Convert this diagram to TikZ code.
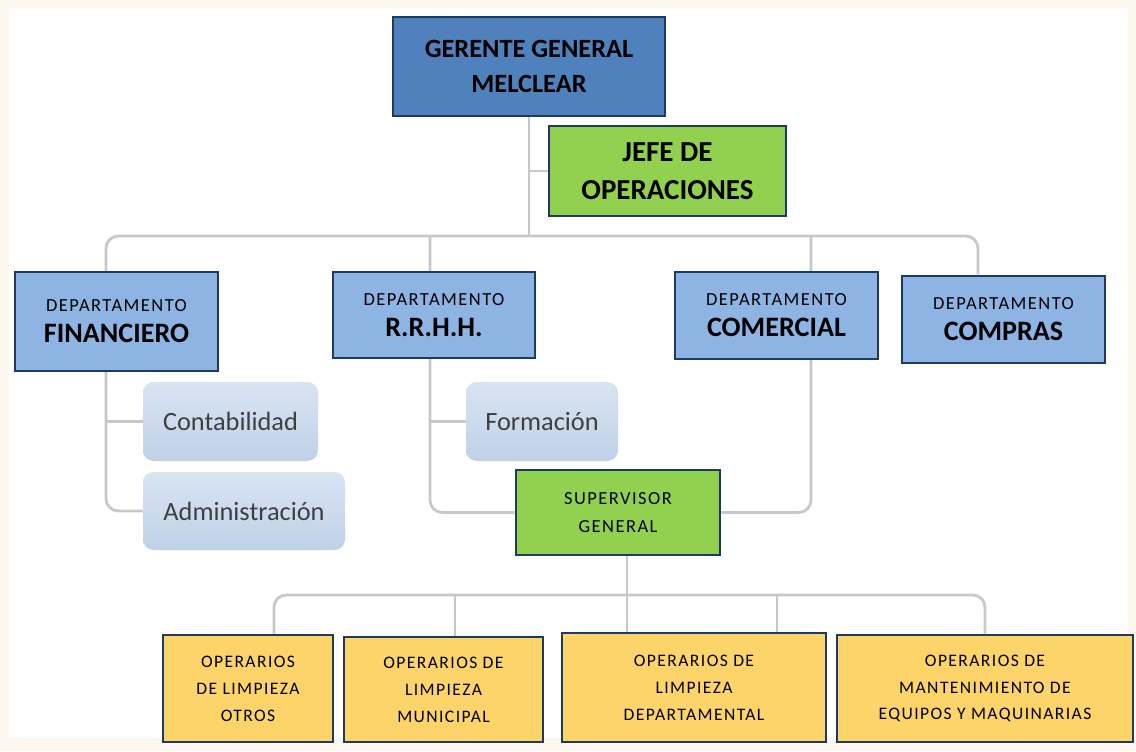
\documentclass[tikz,border=0pt]{standalone}
\usepackage{fontspec}
\setmainfont{Carlito}
\newfontfamily\spacedfont[LetterSpace=8]{Carlito}
\usepackage{xcolor}
\usetikzlibrary{backgrounds}
\definecolor{navy}{HTML}{1F3A60}
\definecolor{gerblue}{HTML}{4F81BD}
\definecolor{deptblue}{HTML}{8DB4E2}
\definecolor{leafgreen}{HTML}{92D050}
\definecolor{operyellow}{HTML}{FCD46A}
\definecolor{subtop}{HTML}{D9E4F2}
\definecolor{subbot}{HTML}{BFD1E8}
\definecolor{subtext}{HTML}{3F3F3F}
\definecolor{linkgray}{HTML}{C8C8C8}
\definecolor{cream}{HTML}{FDF8EF}

\newcommand{\deptlabel}[1]{{\spacedfont DEPARTAMENTO}\\{\bfseries\fontsize{16}{17.6}\selectfont #1}}

\begin{document}
\begin{tikzpicture}[x=0.02cm, y=-0.02cm,
  sz/.style 2 args={minimum width={#1*0.02cm}, minimum height={#2*0.02cm}},
  box/.style={draw=navy, line width=1.6pt, align=center, inner sep=0pt},
  head/.style={box, font=\bfseries\fontsize{15}{20}\selectfont},
  dept/.style={box, fill=deptblue, font=\fontsize{10.5}{17.6}\selectfont},
  sub/.style={rounded corners=6pt, top color=subtop, bottom color=subbot, text=subtext, align=center, font=\fontsize{15}{17}\selectfont},
  oper/.style={box, fill=operyellow, font=\spacedfont\fontsize{10}{15.3}\selectfont},
  link/.style={draw=linkgray, line width=1.6pt, rounded corners=7pt}
]
\useasboundingbox (0,0) rectangle (1136,751);

% top
\node[head, fill=gerblue, sz={272}{99}] (ger) at (529,66.5) {GERENTE GENERAL\\MELCLEAR};
\node[head, fill=leafgreen, sz={237}{90}, font=\bfseries\fontsize{16.5}{21.5}\selectfont] (jefe) at (667.5,171) {JEFE DE\\OPERACIONES};

% departments
\node[dept, sz={203}{99}] (fin) at (116.5,321.5) {\deptlabel{FINANCIERO}};
\node[dept, sz={202}{86}] (rrhh) at (434,315) {\deptlabel{R.R.H.H.}};
\node[dept, sz={203}{87}] (com) at (776.5,315.5) {\deptlabel{COMERCIAL}};
\node[dept, sz={203}{87}] (compras) at (1003.5,319.5) {\deptlabel{COMPRAS}};

% areas
\node[sub, sz={175}{79}] (cont) at (230.5,421.5) {Contabilidad};
\node[sub, sz={202}{78}] (adm) at (244,511) {Administración};
\node[sub, sz={152}{79}] (form) at (542,421.5) {Formación};

\node[box, fill=leafgreen, sz={204}{85}, font=\spacedfont\fontsize{10.5}{16}\selectfont] (sup) at (618,512.5) {SUPERVISOR\\GENERAL};

% operarios
\node[oper, sz={170}{107}] (otros) at (248,688.5) {OPERARIOS\\DE LIMPIEZA\\OTROS};
\node[oper, sz={199}{105}] (mun) at (443.5,689.5) {OPERARIOS DE\\LIMPIEZA\\MUNICIPAL};
\node[oper, sz={264}{109}] (dep) at (694,687.5) {OPERARIOS DE\\LIMPIEZA\\DEPARTAMENTAL};
\node[oper, sz={296}{107}] (equ) at (985,688.5) {OPERARIOS DE\\MANTENIMIENTO DE\\EQUIPOS Y MAQUINARIAS};

\coordinate (bus) at (529,236);
\coordinate (cf) at (106,236);
\coordinate (cr) at (430,236);
\coordinate (cc) at (811,236);
\coordinate (cp) at (978,236);
\coordinate (bus2) at (627,595);
\coordinate (b1) at (274,595);
\coordinate (b2) at (455,595);
\coordinate (b4) at (777,595);
\coordinate (b5) at (985,595);

\begin{scope}[on background layer]
\fill[cream] (0,0) rectangle (1136,751);
\fill[white] (9,8) rectangle (1128,738);
\draw[link] (ger) -- (bus);
\draw[link] (jefe.west) -- (jefe.west -| bus);
\draw[link] (adm.west) -| (cf) -- (cp) -- (compras.north -| cp);
\draw[link] (cont.west) -- (cont.west -| cf);
\draw[link] (cr) |- (sup.west);
\draw[link] (form.west) -- (form.west -| cr);
\draw[link] (cc) |- (sup.east);
\draw[link] (sup.south -| bus2) -- (dep.north -| bus2);
\draw[link] (otros.north -| b1) |- (b5) -- (equ.north -| b5);
\draw[link] (b2) -- (mun.north -| b2);
\draw[link] (b4) -- (dep.north -| b4);
\end{scope}
\end{tikzpicture}
\end{document}
